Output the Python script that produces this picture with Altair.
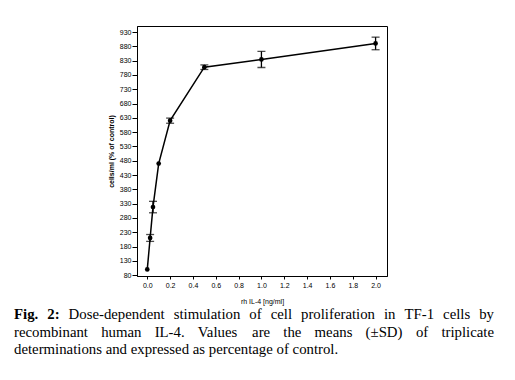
import altair as alt
import pandas as pd

# ---- data ----
dose = [0.0, 0.025, 0.05, 0.1, 0.2, 0.5, 1.0, 2.0]
mean_pct = [100, 210, 318, 470, 620, 807, 834, 890]
sd_pct = [0, 12, 20, 0, 9, 8, 28, 22]

y_ticks = list(range(80, 931, 50))
x_ticks = [0.0, 0.2, 0.4, 0.6, 0.8, 1.0, 1.2, 1.4, 1.6, 1.8, 2.0]

y_title = "cells/ml (% of control)"
x_title = "rh IL-4 [ng/ml]"

# caption: first two lines are justified, last line is left aligned
cap_line1 = ["Fig.", "2:", "Dose-dependent", "stimulation", "of", "cell",
             "proliferation", "in", "TF-1", "cells", "by"]
cap_line1_bold = [True, True] + [False] * 9
cap_line2 = ["recombinant", "human", "IL-4.", "Values", "are", "the",
             "means", "(±SD)", "of", "triplicate"]
cap_line3 = "determinations and expressed as percentage of control."

CAP_FONT = 14.8
CAP_LEFT, CAP_RIGHT = 14, 494
PLOT_LEFT = 137
PLOT_TOP = 26

# approximate Times/Liberation Serif advance widths (em) for justification layout
W_REG = {"a": .444, "b": .5, "c": .444, "d": .5, "e": .444, "f": .333, "g": .5, "h": .5,
         "i": .278, "l": .278, "m": .778, "n": .5, "o": .5, "p": .5, "r": .333, "s": .389,
         "t": .278, "u": .5, "x": .5, "y": .5, "D": .722, "F": .556, "I": .333, "L": .611,
         "S": .556, "T": .611, "V": .722, "-": .333, ".": .25, "(": .333, ")": .333,
         "±": .564, ":": .278, "1": .5, "2": .5, "4": .5}
W_BOLD = {"F": .611, "i": .278, "g": .5, ".": .25, "2": .5, ":": .333}


def word_w(w, bold):
    tbl = W_BOLD if bold else W_REG
    return sum(tbl.get(c, W_REG.get(c, .5)) for c in w) * CAP_FONT


def justify(ws, bolds):
    widths = [word_w(w, b) for w, b in zip(ws, bolds)]
    gap = (CAP_RIGHT - CAP_LEFT - sum(widths)) / (len(ws) - 1)
    xs, x = [], CAP_LEFT
    for wd in widths:
        xs.append(x)
        x += wd + gap
    return xs


df = pd.DataFrame({"dose": dose, "mean": mean_pct, "sd": sd_pct})
df["lo"] = df["mean"] - df["sd"]
df["hi"] = df["mean"] + df["sd"]
df_err = df[df["sd"] > 0]

words = []
for w, b, x in zip(cap_line1, cap_line1_bold, justify(cap_line1, cap_line1_bold)):
    words.append({"t": w, "b": b, "px": x - PLOT_LEFT, "py": 319 - PLOT_TOP})
l2b = [False] * len(cap_line2)
for w, x in zip(cap_line2, justify(cap_line2, l2b)):
    words.append({"t": w, "b": False, "px": x - PLOT_LEFT, "py": 336.5 - PLOT_TOP})
words.append({"t": cap_line3, "b": False, "px": CAP_LEFT - PLOT_LEFT, "py": 354 - PLOT_TOP})
df_cap = pd.DataFrame(words)

xscale = alt.Scale(domain=[-0.09, 2.1], nice=False, zero=False)
yscale = alt.Scale(domain=[77, 951], nice=False, zero=False)

xax = alt.Axis(values=x_ticks, format=".1f", title=x_title, grid=False,
               labelFont="Liberation Sans", labelFontSize=7, labelColor="black",
               titleFont="Liberation Sans", titleFontSize=7, titleFontWeight="normal",
               titleColor="black", titlePadding=9, tickSize=3, tickColor="black",
               domainColor="black", labelPadding=2, labelFlush=False, labelOverlap=False)
yax = alt.Axis(values=y_ticks, format="d", title=y_title, grid=False,
               labelFont="Liberation Sans", labelFontSize=7, labelColor="black",
               titleFont="Liberation Sans", titleFontSize=7, titleFontWeight="bold",
               titleColor="black", titlePadding=5, tickSize=5, tickColor="black",
               domainColor="black", labelPadding=1, labelOverlap=False, labelFlush=False)

X = alt.X("dose:Q", scale=xscale, axis=xax)
Y = alt.Y("mean:Q", scale=yscale, axis=yax)

base = alt.Chart(df)

line = base.mark_line(color="black", strokeWidth=1.5).encode(x=X, y=Y)
pts = base.mark_circle(color="black", size=22, opacity=1).encode(x=X, y=Y)
err = alt.Chart(df_err).mark_rule(color="black", strokeWidth=1.3).encode(
    x=X,
    y=alt.Y("lo:Q", scale=yscale, axis=yax),
    y2="hi:Q",
)
cap_lo = alt.Chart(df_err).mark_tick(color="black", orient="horizontal", size=8, thickness=1.3).encode(
    x=X,
    y=alt.Y("lo:Q", scale=yscale, axis=yax),
)
cap_hi = alt.Chart(df_err).mark_tick(color="black", orient="horizontal", size=8, thickness=1.3).encode(
    x=X,
    y=alt.Y("hi:Q", scale=yscale, axis=yax),
)

plot = alt.layer(line, err, cap_lo, cap_hi, pts)


def caption_layer(bold):
    return alt.Chart(df_cap[df_cap["b"] == bold]).mark_text(
        align="left", baseline="alphabetic", font="Liberation Serif", fontSize=CAP_FONT,
        color="black", fontWeight="bold" if bold else "normal",
    ).encode(
        x=alt.X("px:Q", scale=None, axis=None),
        y=alt.Y("py:Q", scale=None, axis=None),
        text="t:N",
    )


caption = alt.layer(caption_layer(False), caption_layer(True))

chart = alt.layer(plot, caption).resolve_scale(x="independent", y="independent").properties(
    width=250, height=250,
    autosize=alt.AutoSizeParams(type="none"),
    padding={"left": 129, "top": 18, "right": 120, "bottom": 96},
    background="white",
).configure_view(stroke="black", strokeWidth=1)

chart.save("out.html", embed_options={"renderer": "svg", "actions": False})
